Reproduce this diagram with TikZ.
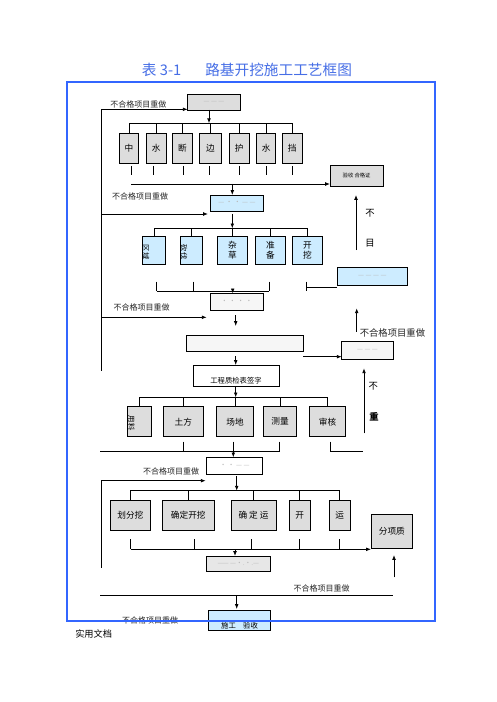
\documentclass[tikz,border=0pt]{standalone}
\usepackage{fontspec}
\setmainfont{Noto Sans CJK SC}
\usetikzlibrary{arrows.meta}
\definecolor{frameblue}{RGB}{51,102,255}
\definecolor{titleblue}{RGB}{70,110,230}
\definecolor{bgray}{RGB}{221,221,221}
\definecolor{bblue}{RGB}{205,236,255}
\definecolor{bwhite}{RGB}{246,246,246}
\newcommand\bx[7]{\node[box,fill=#6,minimum width={(#4-#2)*0.75pt},minimum height={(#5-#3)*0.75pt}] (#1) at ({(#2+#4)/2},{(#3+#5)/2}) {#7};}
\newcommand\dsh[1]{{\color{gray!55}\fontsize{5}{6}\selectfont #1}}
\tikzset{
  box/.style={draw=black,line width=0.6pt,inner sep=0pt,outer sep=0pt,align=center,font=\fontsize{6.5}{7.6}\selectfont},
  ln/.style={line width=0.6pt},
  arr/.style={line width=0.6pt,-{Latex[length=3.6pt,width=2.8pt]}},
  lbl/.style={inner sep=0pt,font=\fontsize{6}{7}\selectfont,text=black!85},
  vch/.style={inner sep=0pt,font=\fontsize{7}{8}\selectfont}
}
\begin{document}
\begin{tikzpicture}[x=0.75pt,y=-0.75pt]
\fill[white] (0,0) rectangle (496,702);
\useasboundingbox (0,0) rectangle (496,702);
% title
\node[anchor=west,inner sep=0pt,text=titleblue,font=\fontsize{11}{13}\selectfont] (ttlA) at (141.7,70) {表 3-1};
\node[anchor=west,inner sep=0pt,text=titleblue,font=\fontsize{11}{13}\selectfont] (ttlB) at (205,70) {路基开挖施工工艺框图};
\node[anchor=west,inner sep=0pt,font=\fontsize{6.9}{8}\selectfont] (foot) at (75,633.5) {实用文档};

% ---------- boxes ----------
\bx{T1}{187.7}{94.3}{240.3}{110}{bgray}{\dsh{— — —}}
\bx{A1}{119.3}{133.3}{138.7}{163.3}{bgray}{中}
\bx{A2}{146.3}{133.3}{166}{163.3}{bgray}{水}
\bx{A3}{172.7}{133.3}{192}{163.3}{bgray}{断}
\bx{A4}{199.3}{133.3}{221.7}{163.3}{bgray}{边}
\bx{A5}{229.3}{133.3}{249.3}{163.3}{bgray}{护}
\bx{A6}{256.7}{133.3}{275.7}{163.3}{bgray}{水}
\bx{A7}{282.3}{133.3}{302.3}{163.3}{bgray}{挡}
\bx{R1}{330}{165}{383.3}{186}{bgray}{\fontsize{4}{5}\selectfont 验收 合格证}
\bx{T2}{210.7}{195}{263.3}{211.7}{bblue}{\dsh{— · · — —}}
\bx{B1}{142.3}{236}{165.7}{264.3}{bblue}{}
\bx{B2}{180}{236}{202.7}{264.3}{bblue}{}
\bx{B3}{217.3}{236}{247.7}{264.3}{bblue}{杂\\草}
\bx{B4}{255}{236}{285.7}{264.3}{bblue}{准\\备}
\bx{B5}{292.3}{236}{322.7}{264.3}{bblue}{开\\挖}
\node[inner sep=0pt,rotate=-90,font=\fontsize{5.5}{6}\selectfont] (B1t) at (146,252) {区域};
\node[inner sep=0pt,rotate=-90,font=\fontsize{5.5}{6}\selectfont] (B2t) at (184,252) {砍伐};
\bx{R2}{337.3}{267.3}{407.3}{285}{bblue}{\dsh{— — — —}}
\bx{T3}{210}{293.3}{263.3}{310}{bwhite}{\dsh{· · · ·}}
\bx{T4}{186}{335}{303.3}{351.7}{bwhite}{}
\bx{T5}{193.3}{365}{279.3}{386.7}{white}{}
\node[inner sep=0pt,font=\fontsize{5.5}{6}\selectfont] (T5t) at (236,381) {工程质检表签字};
\bx{R3}{341.7}{341.7}{393.3}{359.3}{bwhite}{\dsh{— — —}}
\bx{C1}{127.3}{406.7}{151}{436.7}{bgray}{}
\node[inner sep=0pt,rotate=-90,font=\fontsize{5.5}{6}\selectfont] (C1t) at (131.5,423) {用料};
\bx{C2}{163.3}{406.7}{203.3}{436.7}{bgray}{土方}
\bx{C3}{216.7}{406.7}{253.3}{436.7}{bgray}{场地}
\bx{C4}{263.3}{406.7}{296.7}{436.7}{bgray}{测量}
\bx{C5}{309.3}{406.7}{345.7}{436.7}{bgray}{审核}
\bx{T6}{206.7}{457.3}{262.7}{474}{white}{\dsh{· · — —}}
\bx{D1}{110}{500}{150.7}{530.7}{bgray}{划分挖}
\bx{D2}{162.3}{500}{214.3}{530.7}{bgray}{确定开挖}
\bx{D3}{231}{500}{276}{530.7}{bgray}{确 定 运}
\bx{D4}{289.3}{500}{310}{530.7}{bgray}{开}
\bx{D5}{329.3}{500}{350}{530.7}{bgray}{运}
\bx{E}{371}{514.3}{412.7}{548.3}{bgray}{分项质}
\bx{T7}{206.7}{556}{270}{571.7}{bgray!70}{\dsh{—— —·.·.—}}
\bx{T8}{208.3}{610}{270.7}{630}{bblue}{}
\node[inner sep=0pt,font=\fontsize{5.5}{6}\selectfont] (T8t) at (239.5,625.5) {施工\quad 验收};

% ---------- labels ----------
\node[lbl] (L1) at (138.4,104.5) {不合格项目重做};
\node[lbl] (L2) at (140,196) {不合格项目重做};
\node[lbl] (L3) at (141.5,307) {不合格项目重做};
\node[lbl] (L4) at (171,471.5) {不合格项目重做};
\node[lbl,anchor=west,font=\fontsize{7}{8}\selectfont] (L5) at (359.5,333.3) {不合格项目重做};
\node[lbl] (L6) at (321.5,588.5) {不合格项目重做};
\node[lbl] (L7) at (150,620) {不合格项目重做};
\node[vch] (V1) at (370,213) {不};
\node[vch] (V2) at (370,243) {目};
\node[vch] (V3) at (373.3,386.7) {不};
\node[vch,font=\bfseries\fontsize{7}{8}\selectfont] (V4) at (374,417.3) {重};

% ---------- coordinates ----------
\coordinate (left1) at (101,109.3);
\coordinate (left2) at (101,371);
\coordinate (bus1) at (0,123.3);
\coordinate (bus2) at (0,228.3);
\coordinate (bus3) at (0,397.3);
\coordinate (bus4) at (0,490.7);

% left return line, upper
\draw[ln] (left1) -- (left2);
\draw[arr] (left1) -- (left1 -| T1.west);
\draw[arr] (101,214) -- (208,214);
\draw[arr] (101,317.3) -- (206.7,317.3);

% row 1
\draw[arr] (209,110) -- (209,123.3);
\draw[ln] (A1.north |- bus1) -- (A7.north |- bus1);
\foreach \n in {A1,A2,A3,A4,A5,A6,A7} \draw[ln] (\n.north |- bus1) -- (\n.north);
\foreach \x in {131,153,183,209,239,266.7,292.3} \draw[ln] (\x,166) -- (\x,175);
\draw[arr] (131,184) -- (131,184 -| R1.west);
\draw[arr] (232.3,184) -- (232.3,184 |- T2.north);

% row 2
\draw[arr] (232.3,214) -- (232.3,228.3);
\draw[ln] (B1.north |- bus2) -- (B5.north |- bus2);
\foreach \n in {B1,B2,B3,B4,B5} \draw[ln] (\n.north |- bus2) -- (\n.north);
\draw[ln] (156.7,291) -- (269.3,291);
\foreach \x in {156.7,193.3,269.3} \draw[ln] (\x,281.7) -- (\x,291);
\draw[ln] (306,281.7) -- (306,291);
\draw[ln] (307,287.3) -- (307,287.3 -| R2.west);
\draw[arr] (232.7,289) -- (232.7,293.3);
\draw[arr] (356,250) -- (356,195);

% middle column
\draw[arr] (235.7,315) -- (235.7,326);
\draw[arr] (235.7,356) -- (235.7,365);
\draw[arr] (T4.east |- 0,356.7) -- (R3.west |- 0,356.7);
\draw[arr] (356.7,331.7) -- (356.7,308.3);
\draw[arr] (364,433.3) -- (364,368.3);

% row 3
\draw[arr] (235.7,386.7) -- (235.7,397.3);
\draw[ln] (C1.north |- bus3) -- (C5.north |- bus3);
\foreach \n in {C1,C2,C3,C4,C5} \draw[ln] (\n.north |- bus3) -- (\n.north);
\draw[ln] (100,451.7) -- (279.3,451.7);
\foreach \x in {183.3,233.3,279.3} \draw[ln] (\x,441.7) -- (\x,451.7);
\draw[ln] (330,441.7) -- (330,451.7) -- (363.3,451.7);
\draw[arr] (233.3,451.7) -- (233.3,457.3);

% left return line, lower
\draw[ln] (101,480.7) -- (101,568.3);
\draw[arr] (101,480.7) -- (205.7,480.7);

% row 4
\draw[arr] (236.7,476) -- (236.7,490.7);
\draw[ln] (D1.north |- bus4) -- (D5.north |- bus4);
\foreach \n in {D1,D2,D3,D4,D5} \draw[ln] (\n.north |- bus4) -- (\n.north);
\foreach \x in {130.7,194.3,251.7,299.3,339.3} \draw[ln] (\x,539.3) -- (\x,549.3);
\draw[arr] (130.7,549.3) -- (130.7,549.3 -| E.west);
\draw[arr] (235,549.3) -- (235,556);
\draw[arr] (394,577.3) -- (394,555);

% bottom
\draw[ln] (100,595) -- (393.3,595);
\draw[arr] (236.7,595) -- (236.7,609);

% frame
\draw[frameblue,line width=1.6pt] (67,82) rectangle (435,621);
\end{tikzpicture}
\end{document}
